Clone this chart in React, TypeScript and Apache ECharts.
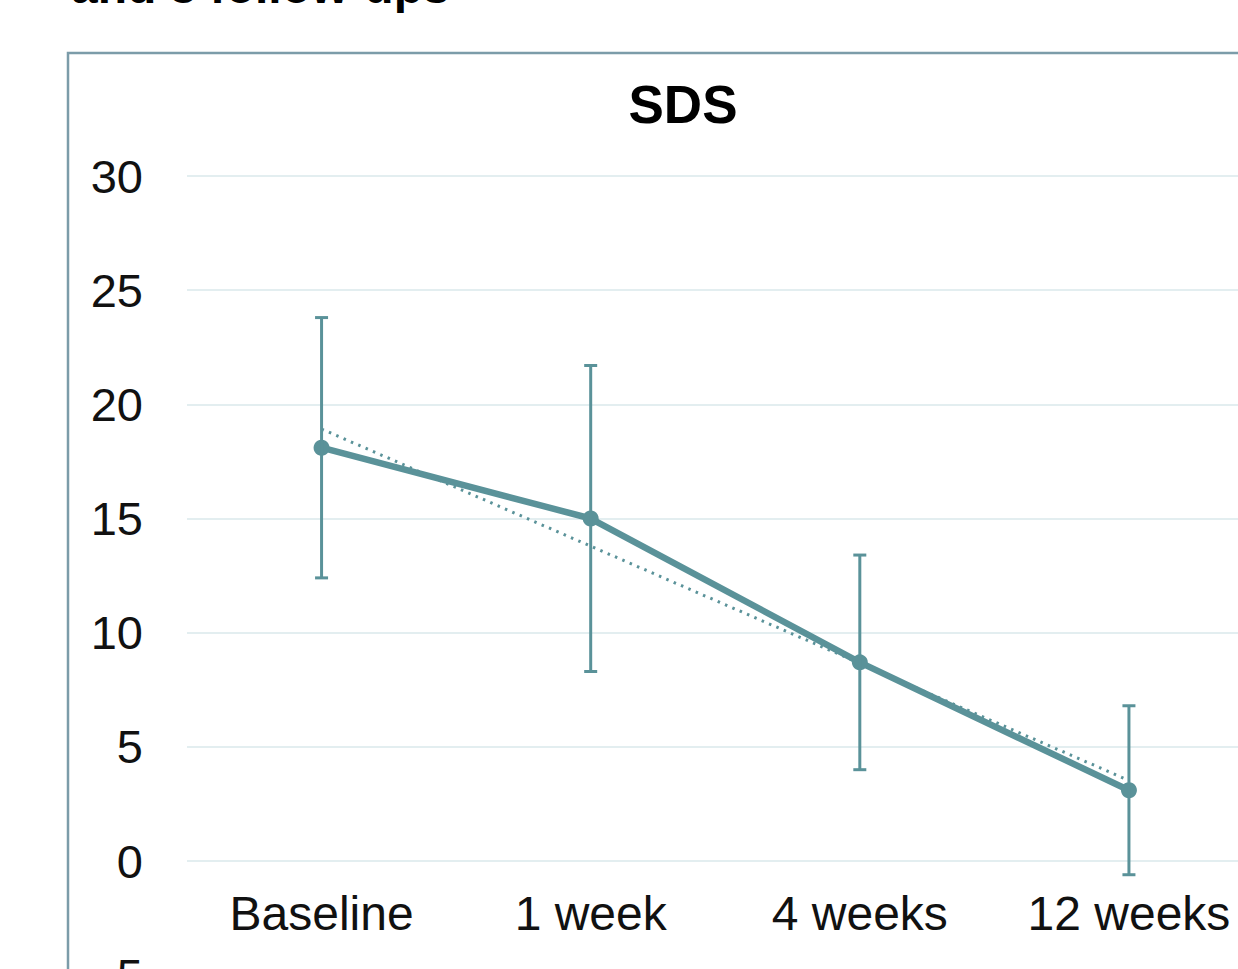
import React, { useEffect, useRef } from "react";
import * as echarts from "echarts";

// SDS score at each visit: mean and standard deviation
const categories = ["Baseline", "1 week", "4 weeks", "12 weeks"];
const means = [18.1, 15.0, 8.7, 3.1];
const sds = [5.7, 6.7, 4.7, 3.7];
const yTicks = { min: -5, max: 30, step: 5 };

const TEAL = "#5a9299";
const GRID = "#e3eef0";
const FONT = "'Liberation Sans', Arial, sans-serif";

const GRID_TOP = 176;
const GRID_HEIGHT = 799.2;

// Least-squares linear trend through the means (x = 0..n-1)
function linearTrend(values: number[]): number[] {
  const n = values.length;
  const xm = (n - 1) / 2;
  const ym = values.reduce((a, b) => a + b, 0) / n;
  let num = 0;
  let den = 0;
  values.forEach((v, i) => {
    num += (i - xm) * (v - ym);
    den += (i - xm) * (i - xm);
  });
  const slope = num / den;
  const intercept = ym - slope * xm;
  return values.map((_, i) => intercept + slope * i);
}

export default function App() {
  const ref = useRef<HTMLDivElement>(null);

  useEffect(() => {
    if (!ref.current) return;
    const chart = echarts.init(ref.current, undefined, { renderer: "svg" });

    const errorData = means.map((m, i) => [i, m - sds[i], m + sds[i]]);
    const trend = linearTrend(means);
    // category axis sits on the zero line, above the bottom of the plot
    const zeroOffset = -((0 - yTicks.min) / (yTicks.max - yTicks.min)) * GRID_HEIGHT;

    chart.setOption({
      animation: false,
      backgroundColor: "#ffffff",
      textStyle: { fontFamily: FONT },
      graphic: [
        {
          type: "text",
          left: 71,
          top: -38,
          silent: true,
          style: {
            text: "and 3 follow-ups",
            fontFamily: FONT,
            fontSize: 48,
            fontWeight: "bold",
            fill: "#000000",
          },
        },
        {
          type: "rect",
          z: -10,
          silent: true,
          shape: { x: 68, y: 53, width: 1300, height: 1100 },
          style: { fill: "#ffffff", stroke: "#7c9ca9", lineWidth: 2.5 },
        },
      ],
      title: {
        text: "SDS",
        left: 683,
        top: 78,
        textAlign: "center",
        padding: 0,
        textStyle: {
          fontFamily: FONT,
          fontSize: 53,
          fontWeight: "bold",
          color: "#000000",
        },
      },
      grid: { left: 187, top: GRID_TOP, width: 1076.5, height: GRID_HEIGHT, containLabel: false },
      xAxis: {
        type: "category",
        data: categories,
        boundaryGap: true,
        offset: zeroOffset,
        axisLine: { show: false, onZero: false },
        axisTick: { show: false },
        axisLabel: {
          color: "#111111",
          fontSize: 48,
          fontFamily: FONT,
          margin: 28,
        },
      },
      yAxis: {
        type: "value",
        min: yTicks.min,
        max: yTicks.max,
        interval: yTicks.step,
        axisLine: { show: false },
        axisTick: { show: false },
        axisLabel: {
          color: "#111111",
          fontSize: 47,
          fontFamily: FONT,
          margin: 44,
        },
        splitLine: { lineStyle: { color: GRID, width: 2 } },
      },
      series: [
        {
          name: "Trend",
          type: "line",
          data: trend,
          symbol: "none",
          z: 2,
          lineStyle: { color: TEAL, width: 3, type: [2.5, 5.5] },
        },
        {
          name: "SDS",
          type: "line",
          data: means,
          symbol: "circle",
          symbolSize: 16,
          z: 3,
          itemStyle: { color: TEAL },
          lineStyle: { color: TEAL, width: 6.5 },
        },
        {
          name: "SD",
          type: "custom",
          z: 4,
          data: errorData,
          renderItem: (_params: any, api: any) => {
            const i = api.value(0);
            const lo = api.coord([i, api.value(1)]);
            const hi = api.coord([i, api.value(2)]);
            const cap = 6.5;
            const style = { stroke: TEAL, lineWidth: 3 };
            return {
              type: "group",
              children: [
                { type: "line", shape: { x1: hi[0], y1: hi[1], x2: lo[0], y2: lo[1] }, style },
                { type: "line", shape: { x1: hi[0] - cap, y1: hi[1], x2: hi[0] + cap, y2: hi[1] }, style },
                { type: "line", shape: { x1: lo[0] - cap, y1: lo[1], x2: lo[0] + cap, y2: lo[1] }, style },
              ],
            };
          },
        },
      ],
    });

    return () => chart.dispose();
  }, []);

  return (
    <div
      style={{
        position: "fixed",
        left: 0,
        top: 0,
        width: 1238,
        height: 969,
        overflow: "hidden",
        background: "#ffffff",
      }}
    >
      <div ref={ref} style={{ width: 1400, height: 1100 }} />
    </div>
  );
}
